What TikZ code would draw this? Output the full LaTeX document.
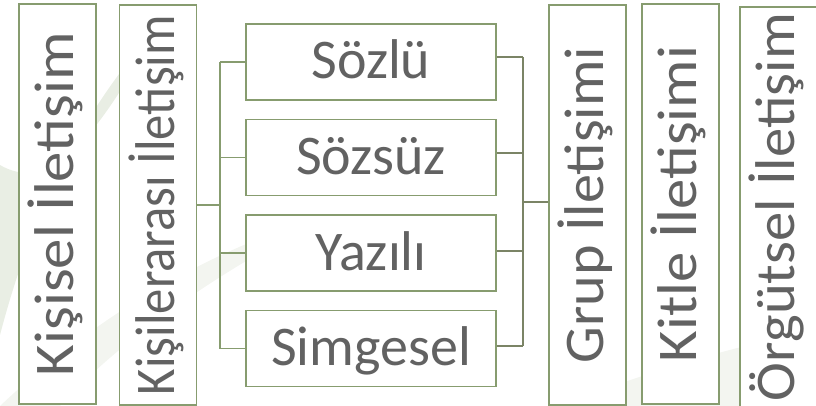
\documentclass[tikz,border=0pt]{standalone}
\usepackage{fontspec}
\usepackage{graphicx}
\setmainfont{Carlito}
\definecolor{boxline}{HTML}{879C6F}
\definecolor{txt}{HTML}{626262}
\definecolor{rconn}{HTML}{7B8466}
\definecolor{swoosh}{HTML}{E9EEE4}
\definecolor{swoosh2}{HTML}{F3F5F0}
\newcommand{\fitw}[2]{\resizebox{#1}{\height}{#2}}
\tikzset{
  box/.style={draw=boxline, line width=1.8pt, fill=white, text=txt, inner sep=0pt,
    font=\fontsize{56}{58}\selectfont},
  vbox/.style={box, rotate=90, minimum width=400pt, minimum height=77pt,
    text height=32pt, text depth=0pt},
  sbox/.style={box, minimum width=250pt, minimum height=76pt,
    text height=34pt, text depth=0pt},
  lconn/.style={draw=boxline, line width=1.8pt},
  rline/.style={draw=rconn, line width=1.8pt}
}
\begin{document}
\begin{tikzpicture}[x=1pt,y=-1pt]
\useasboundingbox (0,0) rectangle (816,406);
\begin{scope}
\clip (0,0) rectangle (816,406);
% background swooshes
\fill[swoosh2] (0,406) .. controls (80,330) and (200,250) .. (330,215) .. controls (220,270) and (120,340) .. (60,406) -- cycle;
\fill[swoosh] (0,335) .. controls (30,220) and (80,110) .. (160,25) .. controls (110,110) and (60,200) .. (0,165) -- cycle;
\fill[swoosh2] (560,406) .. controls (650,370) and (740,345) .. (816,330) -- (816,406) -- cycle;

% left vertical boxes
\node[vbox] (k1) at (57.5,204) {\fitw{344pt}{Kişisel İletişim}};
\node[vbox] (k2) at (158,205) {\fitw{380pt}{Kişilerarası İletişim}};

% sub boxes
\node[sbox] (s1) at (371,62) {Sözlü};
\node[sbox] (s2) at (371,157.5) {Sözsüz};
\node[sbox] (s3) at (371,253) {Yazılı};
\node[sbox] (s4) at (371,348.5) {Simgesel};

% right vertical boxes
\node[vbox] (g) at (587.5,205) {\fitw{316pt}{Grup İletişimi}};
\node[vbox] (kt) at (680.5,204) {\fitw{316pt}{Kitle İletişimi}};
\node[vbox] (o) at (778.5,207) {\fitw{388pt}{Örgütsel İletişim}};

% left connectors
\coordinate (lj) at (220,205);
\draw[lconn] (k2.south) -- (lj);
\draw[lconn] (lj |- s1.west) -- (lj |- s4.west);
\draw[lconn] (lj |- s1.west) -- (s1.west);
\draw[lconn] (lj |- s2.west) -- (s2.west);
\draw[lconn] (lj |- s3.west) -- (s3.west);
\draw[lconn] (lj |- s4.west) -- (s4.west);

% right connectors
\coordinate (rj) at (523,202);
\coordinate (e1) at ([yshift=5pt]s1.east);
\coordinate (e2) at ([yshift=4.5pt]s2.east);
\coordinate (e3) at ([yshift=2pt]s3.east);
\coordinate (e4) at ([yshift=2.5pt]s4.east);
\draw[rline] (e1) -- (rj |- e1);
\draw[rline] (e2) -- (rj |- e2);
\draw[rline] (e3) -- (rj |- e3);
\draw[rline] (e4) -- (rj |- e4);
\draw[rline] (rj |- e1) -- (rj |- e4);
\draw[rline] (rj) -- (rj -| g.north);
\end{scope}
\end{tikzpicture}
\end{document}
